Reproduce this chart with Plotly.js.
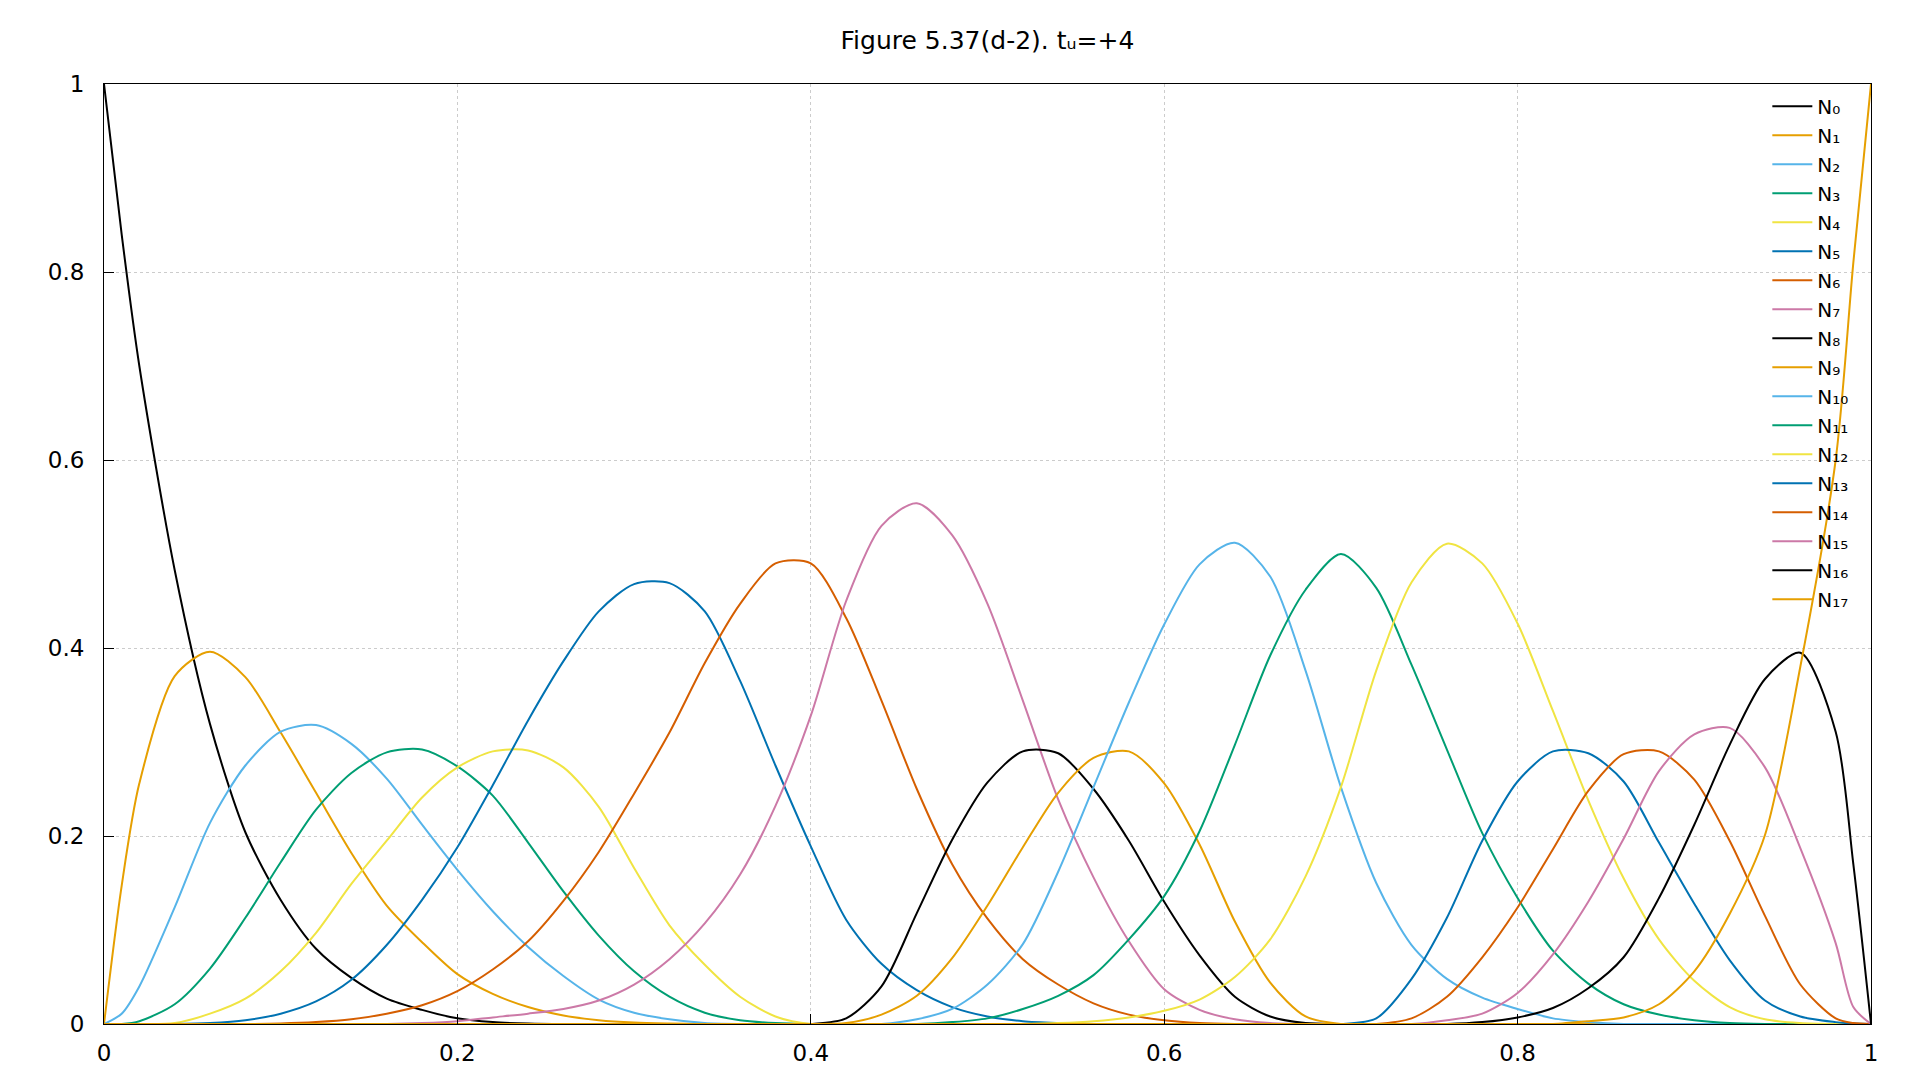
<!DOCTYPE html>
<html>
<head>
<meta charset="utf-8">
<script src="https://cdn.plot.ly/plotly-3.0.1.min.js"></script>
<style>html,body{margin:0;padding:0;background:#fff;}#chart{width:1920px;height:1080px;}</style>
</head>
<body>
<div id="chart"></div>
<script>
// parameter values u (shared by all basis functions)
const u = [0, 0.01, 0.02, 0.04, 0.06, 0.08, 0.10, 0.12, 0.14, 0.16, 0.18, 0.20, 0.22, 0.24, 0.26, 0.28, 0.30, 0.32, 0.34, 0.36, 0.38, 0.40, 0.42, 0.44, 0.46, 0.48, 0.50, 0.52, 0.54, 0.56, 0.58, 0.60, 0.62, 0.64, 0.66, 0.68, 0.70, 0.72, 0.74, 0.76, 0.78, 0.80, 0.82, 0.84, 0.86, 0.88, 0.90, 0.92, 0.94, 0.96, 0.98, 0.99, 1.0];

// basis function values
const N0  = [1, 0.84, 0.70, 0.483, 0.319, 0.204, 0.132, 0.080, 0.049, 0.027, 0.015, 0.006, 0.002, 0.0005, 0, 0, 0, 0, 0, 0, 0, 0, 0, 0, 0, 0, 0, 0, 0, 0, 0, 0, 0, 0, 0, 0, 0, 0, 0, 0, 0, 0, 0, 0, 0, 0, 0, 0, 0, 0, 0, 0, 0];
const N1  = [0, 0.147, 0.256, 0.370, 0.396, 0.369, 0.310, 0.246, 0.182, 0.126, 0.087, 0.053, 0.032, 0.018, 0.009, 0.004, 0.0015, 0.0005, 0, 0, 0, 0, 0, 0, 0, 0, 0, 0, 0, 0, 0, 0, 0, 0, 0, 0, 0, 0, 0, 0, 0, 0, 0, 0, 0, 0, 0, 0, 0, 0, 0, 0, 0];
const N2  = [0, 0.011, 0.040, 0.124, 0.214, 0.275, 0.311, 0.318, 0.298, 0.261, 0.212, 0.164, 0.120, 0.082, 0.051, 0.026, 0.012, 0.005, 0.001, 0, 0, 0, 0, 0, 0, 0, 0, 0, 0, 0, 0, 0, 0, 0, 0, 0, 0, 0, 0, 0, 0, 0, 0, 0, 0, 0, 0, 0, 0, 0, 0, 0, 0];
const N3  = [0, 0, 0.003, 0.021, 0.059, 0.113, 0.172, 0.228, 0.267, 0.289, 0.292, 0.274, 0.243, 0.193, 0.141, 0.094, 0.056, 0.029, 0.012, 0.004, 0.001, 0, 0, 0, 0, 0, 0, 0, 0, 0, 0, 0, 0, 0, 0, 0, 0, 0, 0, 0, 0, 0, 0, 0, 0, 0, 0, 0, 0, 0, 0, 0, 0];
const N4  = [0, 0, 0, 0.001, 0.011, 0.027, 0.056, 0.097, 0.149, 0.195, 0.241, 0.273, 0.290, 0.291, 0.273, 0.231, 0.166, 0.105, 0.063, 0.029, 0.008, 0, 0, 0, 0, 0, 0, 0, 0, 0, 0, 0, 0, 0, 0, 0, 0, 0, 0, 0, 0, 0, 0, 0, 0, 0, 0, 0, 0, 0, 0, 0, 0];
const N5  = [0, 0, 0, 0, 0.001, 0.004, 0.011, 0.024, 0.047, 0.084, 0.132, 0.188, 0.254, 0.323, 0.386, 0.439, 0.468, 0.469, 0.439, 0.365, 0.275, 0.189, 0.111, 0.064, 0.036, 0.018, 0.008, 0.003, 0.001, 0, 0, 0, 0, 0, 0, 0, 0, 0, 0, 0, 0, 0, 0, 0, 0, 0, 0, 0, 0, 0, 0, 0, 0];
const N6  = [0, 0, 0, 0, 0, 0, 0.0005, 0.002, 0.005, 0.011, 0.020, 0.035, 0.058, 0.088, 0.131, 0.183, 0.245, 0.310, 0.384, 0.447, 0.490, 0.490, 0.432, 0.344, 0.250, 0.170, 0.112, 0.069, 0.042, 0.022, 0.010, 0.004, 0.001, 0, 0, 0, 0, 0, 0, 0, 0, 0, 0, 0, 0, 0, 0, 0, 0, 0, 0, 0, 0];
const N7  = [0, 0, 0, 0, 0, 0, 0, 0, 0, 0, 0.001, 0.003, 0.007, 0.011, 0.016, 0.025, 0.042, 0.069, 0.107, 0.159, 0.232, 0.328, 0.450, 0.530, 0.554, 0.520, 0.447, 0.344, 0.239, 0.156, 0.088, 0.037, 0.015, 0.005, 0.001, 0, 0, 0, 0, 0, 0, 0, 0, 0, 0, 0, 0, 0, 0, 0, 0, 0, 0];
const N8  = [0, 0, 0, 0, 0, 0, 0, 0, 0, 0, 0, 0, 0, 0, 0, 0, 0, 0, 0, 0, 0, 0, 0.006, 0.040, 0.118, 0.196, 0.257, 0.290, 0.288, 0.250, 0.195, 0.130, 0.073, 0.029, 0.008, 0.001, 0, 0, 0, 0, 0, 0, 0, 0, 0, 0, 0, 0, 0, 0, 0, 0, 0];
const N9  = [0, 0, 0, 0, 0, 0, 0, 0, 0, 0, 0, 0, 0, 0, 0, 0, 0, 0, 0, 0, 0, 0, 0.001, 0.010, 0.030, 0.070, 0.126, 0.188, 0.246, 0.283, 0.290, 0.256, 0.191, 0.109, 0.044, 0.008, 0, 0, 0, 0, 0, 0, 0, 0, 0, 0, 0, 0, 0, 0, 0, 0, 0];
const N10 = [0, 0, 0, 0, 0, 0, 0, 0, 0, 0, 0, 0, 0, 0, 0, 0, 0, 0, 0, 0, 0, 0, 0, 0, 0.005, 0.016, 0.042, 0.085, 0.162, 0.252, 0.342, 0.425, 0.489, 0.512, 0.476, 0.376, 0.252, 0.150, 0.084, 0.048, 0.028, 0.016, 0.006, 0.002, 0, 0, 0, 0, 0, 0, 0, 0, 0];
const N11 = [0, 0, 0, 0, 0, 0, 0, 0, 0, 0, 0, 0, 0, 0, 0, 0, 0, 0, 0, 0, 0, 0, 0, 0, 0, 0.002, 0.006, 0.016, 0.030, 0.052, 0.090, 0.136, 0.205, 0.297, 0.392, 0.462, 0.500, 0.464, 0.382, 0.292, 0.203, 0.134, 0.078, 0.043, 0.021, 0.010, 0.004, 0.001, 0, 0, 0, 0, 0];
const N12 = [0, 0, 0, 0, 0, 0, 0, 0, 0, 0, 0, 0, 0, 0, 0, 0, 0, 0, 0, 0, 0, 0, 0, 0, 0, 0, 0, 0, 0.001, 0.003, 0.007, 0.014, 0.026, 0.050, 0.090, 0.157, 0.252, 0.376, 0.470, 0.511, 0.490, 0.426, 0.333, 0.238, 0.155, 0.090, 0.046, 0.018, 0.005, 0.001, 0, 0, 0];
const N13 = [0, 0, 0, 0, 0, 0, 0, 0, 0, 0, 0, 0, 0, 0, 0, 0, 0, 0, 0, 0, 0, 0, 0, 0, 0, 0, 0, 0, 0, 0, 0, 0, 0, 0, 0, 0, 0, 0.006, 0.048, 0.113, 0.195, 0.258, 0.290, 0.288, 0.258, 0.193, 0.128, 0.068, 0.025, 0.008, 0.002, 0.0005, 0];
const N14 = [0, 0, 0, 0, 0, 0, 0, 0, 0, 0, 0, 0, 0, 0, 0, 0, 0, 0, 0, 0, 0, 0, 0, 0, 0, 0, 0, 0, 0, 0, 0, 0, 0, 0, 0, 0, 0, 0, 0.006, 0.029, 0.071, 0.124, 0.186, 0.248, 0.287, 0.290, 0.260, 0.195, 0.115, 0.042, 0.006, 0.001, 0];
const N15 = [0, 0, 0, 0, 0, 0, 0, 0, 0, 0, 0, 0, 0, 0, 0, 0, 0, 0, 0, 0, 0, 0, 0, 0, 0, 0, 0, 0, 0, 0, 0, 0, 0, 0, 0, 0, 0, 0, 0, 0.004, 0.011, 0.033, 0.074, 0.130, 0.197, 0.269, 0.308, 0.315, 0.273, 0.187, 0.086, 0.018, 0];
const N16 = [0, 0, 0, 0, 0, 0, 0, 0, 0, 0, 0, 0, 0, 0, 0, 0, 0, 0, 0, 0, 0, 0, 0, 0, 0, 0, 0, 0, 0, 0, 0, 0, 0, 0, 0, 0, 0, 0, 0, 0, 0.002, 0.007, 0.017, 0.038, 0.071, 0.134, 0.212, 0.297, 0.367, 0.395, 0.311, 0.170, 0];
const N17 = [0, 0, 0, 0, 0, 0, 0, 0, 0, 0, 0, 0, 0, 0, 0, 0, 0, 0, 0, 0, 0, 0, 0, 0, 0, 0, 0, 0, 0, 0, 0, 0, 0, 0, 0, 0, 0, 0, 0, 0, 0, 0, 0, 0.003, 0.007, 0.021, 0.056, 0.117, 0.201, 0.380, 0.600, 0.810, 1.0];

const seriesNames = ["N₀", "N₁", "N₂", "N₃", "N₄", "N₅", "N₆", "N₇", "N₈", "N₉", "N₁₀", "N₁₁", "N₁₂", "N₁₃", "N₁₄", "N₁₅", "N₁₆", "N₁₇"];
const seriesValues = [N0, N1, N2, N3, N4, N5, N6, N7, N8, N9, N10, N11, N12, N13, N14, N15, N16, N17];
const xTickVals = [0, 0.2, 0.4, 0.6, 0.8, 1];
const xTickText = ["0", "0.2", "0.4", "0.6", "0.8", "1"];
const yTickVals = [0, 0.2, 0.4, 0.6, 0.8, 1];
const yTickText = ["0", "0.2", "0.4", "0.6", "0.8", "1"];
const chartTitle = "Figure 5.37(d-2). tᵤ=+4";

const palette = ["#000000", "#e69f00", "#56b4e9", "#009e73", "#f0e442", "#0072b2", "#d55e00", "#cc79a7"];

const traces = seriesValues.map((vals, i) => ({
  x: u,
  y: vals,
  name: seriesNames[i],
  type: "scatter",
  mode: "lines",
  line: { color: palette[i % palette.length], width: 2, shape: "spline", smoothing: 0.8 },
  hoverinfo: "x+y+name"
}));

const FONT = "DejaVu Sans, Verdana, sans-serif";

const layout = {
  width: 1920,
  height: 1080,
  paper_bgcolor: "#ffffff",
  plot_bgcolor: "#ffffff",
  margin: { l: 104, r: 49, t: 84, b: 56, pad: 0 },
  font: { family: FONT, size: 23, color: "#000000" },
  title: {
    text: chartTitle,
    font: { family: FONT, size: 25, color: "#000000" },
    x: 0.5, xref: "paper", xanchor: "center",
    y: 1 - 40 / 1080, yref: "container", yanchor: "middle"
  },
  xaxis: {
    range: [0, 1],
    tickmode: "array", tickvals: xTickVals, ticktext: xTickText,
    ticks: "inside", ticklen: 10, tickwidth: 1, tickcolor: "#000000",
    showline: true, linecolor: "#000000", linewidth: 1, mirror: true,
    showgrid: true, gridcolor: "#cccccc", gridwidth: 1, griddash: "3px,3px",
    zeroline: false, ticklabelstandoff: 8,
    tickfont: { family: FONT, size: 23, color: "#000000" }
  },
  yaxis: {
    range: [0, 1],
    tickmode: "array", tickvals: yTickVals, ticktext: yTickText,
    ticks: "inside", ticklen: 10, tickwidth: 1, tickcolor: "#000000",
    showline: true, linecolor: "#000000", linewidth: 1, mirror: true,
    showgrid: true, gridcolor: "#cccccc", gridwidth: 1, griddash: "3px,3px",
    zeroline: false, ticklabelstandoff: 14,
    tickfont: { family: FONT, size: 23, color: "#000000" }
  },
  showlegend: true,
  legend: {
    x: 0.99, xanchor: "right", y: 0.997, yanchor: "top",
    bgcolor: "rgba(255,255,255,0)", borderwidth: 0,
    font: { family: FONT, size: 20, color: "#000000" },
    tracegroupgap: 0, traceorder: "normal", itemwidth: 40
  }
};

Plotly.newPlot("chart", traces, layout, { displayModeBar: false, staticPlot: true });
</script>
</body>
</html>
